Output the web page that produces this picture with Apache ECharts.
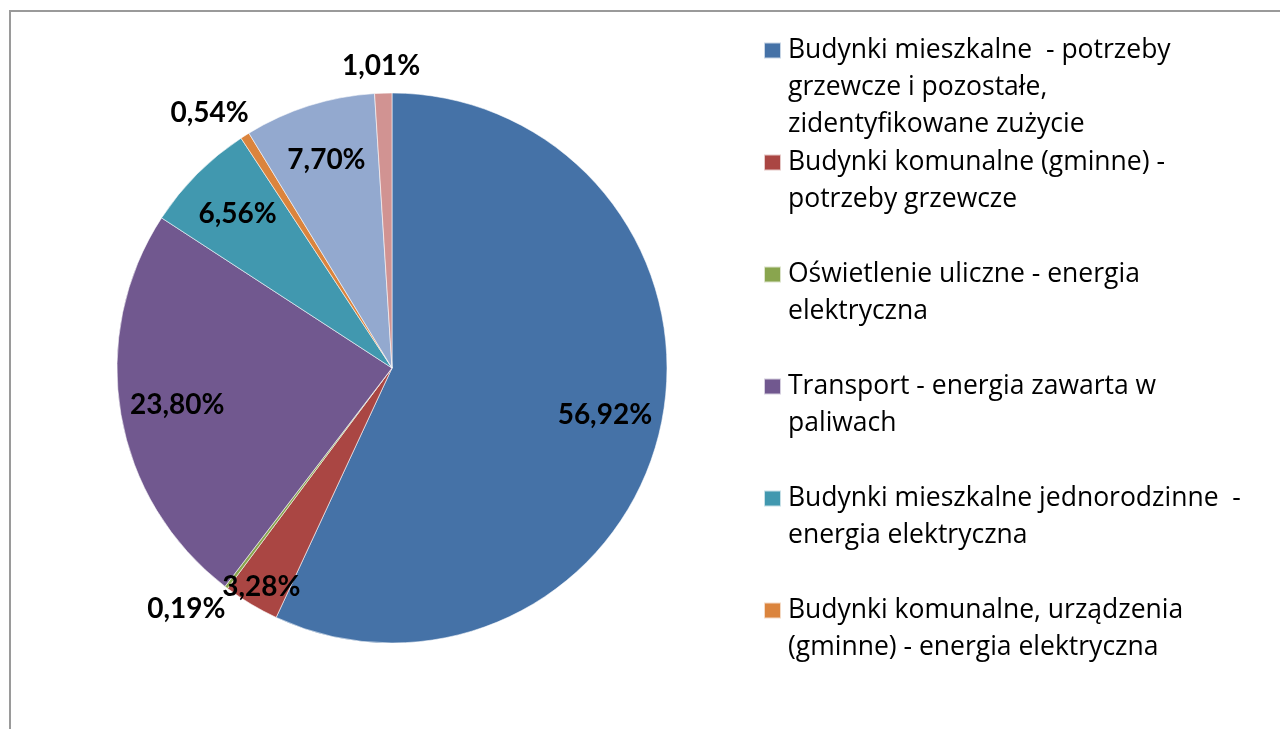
<!DOCTYPE html>
<html>
<head>
<meta charset="utf-8">
<script src="https://cdn.jsdelivr.net/npm/echarts@6/dist/echarts.min.js"></script>
<style>
  html, body { margin: 0; padding: 0; background: #fff; overflow: hidden; }
  #chart { width: 1280px; height: 729px; }
  #frame {
    position: absolute; left: 9px; top: 10px; width: 1290px; height: 740px;
    border-left: 2px solid #9a9a9a; border-top: 2px solid #9a9a9a;
    pointer-events: none;
  }
</style>
</head>
<body>
<div id="chart"></div>
<div id="frame"></div>
<script>
// nazwy kategorii (dwie ostatnie nie mieszczą się w legendzie)
var categories = [
  "Budynki mieszkalne  - potrzeby grzewcze i pozostałe, zidentyfikowane zużycie",
  "Budynki komunalne (gminne) - potrzeby grzewcze",
  "Oświetlenie uliczne - energia elektryczna",
  "Transport - energia zawarta w paliwach",
  "Budynki mieszkalne jednorodzinne  - energia elektryczna",
  "Budynki komunalne, urządzenia (gminne) - energia elektryczna",
  "Budynki mieszkalne wielorodzinne - energia elektryczna",
  "Pozostałe zużycie energii"
];
// udział procentowy
var shares = [56.92, 3.28, 0.19, 23.80, 6.56, 0.54, 7.70, 1.01];
var colors = ["#4572A7", "#AA4643", "#89A54E", "#71588F", "#4198AF", "#DB843D", "#93A9CF", "#D19392"];
// podział tekstu legendy na wiersze
var legendLines = [
  ["Budynki mieszkalne  - potrzeby", "grzewcze i pozostałe,", "zidentyfikowane zużycie"],
  ["Budynki komunalne (gminne) -", "potrzeby grzewcze"],
  ["Oświetlenie uliczne - energia", "elektryczna"],
  ["Transport - energia zawarta w", "paliwach"],
  ["Budynki mieszkalne jednorodzinne  -", "energia elektryczna"],
  ["Budynki komunalne, urządzenia", "(gminne) - energia elektryczna"]
];

var CX = 392, CY = 368, R = 275;
var LINE = 37;

var chart = echarts.init(document.getElementById("chart"));

var option = {
  animation: false,
  legend: {
    orient: "vertical",
    left: 763,
    top: 31,
    padding: 0,
    itemGap: -1,
    itemWidth: 17,
    itemHeight: LINE * 3,
    // kwadrat przy pierwszym wierszu opisu
    icon: "path://M0,0M0,10.5L17,10.5L17,26.5L0,26.5ZM0,111",
    selectedMode: false,
    data: categories.slice(0, legendLines.length),
    formatter: function (name) {
      var lines = legendLines[categories.indexOf(name)].slice();
      while (lines.length < 3) lines.push("");
      return lines.join("\n");
    },
    textStyle: {
      fontFamily: "Open Sans",
      fontSize: 26.5,
      lineHeight: LINE,
      color: "#000",
      padding: [0, 0, 0, 2]
    }
  },
  series: [
    {
      type: "pie",
      center: [CX, CY],
      radius: R,
      startAngle: 90,
      clockwise: true,
      avoidLabelOverlap: false,
      data: categories.map(function (n, i) {
        return { name: n, value: shares[i], itemStyle: { color: colors[i] } };
      }),
      itemStyle: { borderColor: "rgba(255,255,255,0.7)", borderWidth: 0.8 },
      label: {
        show: true,
        position: "inside",
        fontFamily: "Lato",
        fontWeight: "bold",
        fontSize: 28,
        color: "#000",
        formatter: function (p) {
          return p.value.toFixed(2).replace(".", ",") + "%";
        }
      },
      labelLine: { show: false },
      // przesunięcie etykiet jak w Excelu (duże w środku, małe na zewnątrz)
      labelLayout: function (p) {
        var v = shares[p.dataIndex];
        var r = p.labelRect;
        var lx = r.x + r.width / 2 - CX;
        var ly = r.y + r.height / 2 - CY;
        var d = Math.sqrt(lx * lx + ly * ly);
        var nx = lx / d, ny = ly / d;
        var target = v >= 5 ? 218 : (v >= 2 ? 255 : 302);
        var dx = nx * (target - d);
        var dy = ny * (target - d);
        if (v < 2) dx += nx * r.width / 2;
        return { dx: dx, dy: dy };
      },
      emphasis: { scale: false }
    }
  ]
};

chart.setOption(option);
window.addEventListener("resize", function () {
  chart.resize();
});
</script>
</body>
</html>
